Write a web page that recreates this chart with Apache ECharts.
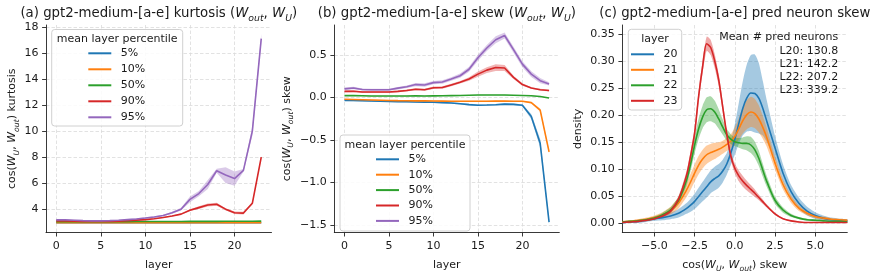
<!DOCTYPE html>
<html><head><meta charset="utf-8">
<script src="https://cdn.jsdelivr.net/npm/echarts@6/dist/echarts.min.js"></script>
<style>html,body{margin:0;padding:0;background:#fff}#c{width:878px;height:278px}</style>
</head><body><div id="c"></div>
<script>
// ---------------- data ----------------
const layers = [0,1,2,3,4,5,6,7,8,9,10,11,12,13,14,15,16,17,18,19,20,21,22,23];
const layerTicks = [0,5,10,15,20];
const kurtTicks = [4,6,8,10,12,14,16,18];
const skewTicks = [-1.5,-1.0,-0.5,0.0,0.5];
const skewXTicks = [-5,-2.5,0,2.5,5];
const densTicks = [0,0.05,0.10,0.15,0.20,0.25,0.30,0.35];
const pctNames = ['5%','10%','50%','90%','95%'];
const layerNames = ['20','21','22','23'];

// (a) kurtosis
const kurt5  = [2.96,2.96,2.96,2.96,2.96,2.96,2.96,2.96,2.96,2.96,2.96,2.96,2.96,2.96,2.96,2.96,2.96,2.96,2.96,2.96,2.96,2.96,2.96,2.96];
const kurt10 = [2.97,2.97,2.97,2.97,2.97,2.97,2.97,2.97,2.97,2.97,2.97,2.97,2.97,2.97,2.97,2.97,2.97,2.97,2.97,2.97,2.97,2.97,2.97,2.97];
const kurt50 = [3.04,3.04,3.04,3.04,3.04,3.04,3.04,3.04,3.04,3.05,3.05,3.05,3.05,3.05,3.05,3.06,3.06,3.06,3.06,3.07,3.07,3.07,3.07,3.08];
const kurt90 = [3.10,3.10,3.08,3.06,3.05,3.05,3.06,3.08,3.12,3.16,3.20,3.27,3.36,3.48,3.62,3.92,4.12,4.32,4.38,4.00,3.72,3.70,4.45,8.00];
const kurt95 = [3.18,3.18,3.15,3.12,3.10,3.10,3.12,3.15,3.20,3.25,3.32,3.40,3.52,3.72,4.00,4.75,5.20,5.90,6.95,6.62,6.35,6.98,10.0,17.1];
const kurtErr5  = [0.01,0.01,0.01,0.01,0.01,0.01,0.01,0.01,0.01,0.01,0.01,0.01,0.01,0.01,0.01,0.01,0.01,0.01,0.01,0.01,0.01,0.01,0.01,0.01];
const kurtErr10 = [0.01,0.01,0.01,0.01,0.01,0.01,0.01,0.01,0.01,0.01,0.01,0.01,0.01,0.01,0.01,0.01,0.01,0.01,0.01,0.01,0.01,0.01,0.01,0.01];
const kurtErr50 = [0.015,0.015,0.015,0.015,0.015,0.015,0.015,0.015,0.015,0.015,0.015,0.015,0.015,0.015,0.015,0.015,0.015,0.015,0.015,0.015,0.015,0.015,0.015,0.015];
const kurtErr90 = [0.03,0.03,0.03,0.03,0.03,0.03,0.03,0.03,0.03,0.03,0.03,0.03,0.04,0.04,0.05,0.07,0.10,0.12,0.12,0.08,0.10,0.10,0.10,0.08];
const kurtErr95 = [0.05,0.05,0.04,0.04,0.04,0.04,0.04,0.04,0.05,0.05,0.05,0.06,0.06,0.08,0.10,0.22,0.20,0.35,0.15,0.60,0.55,0.10,0.35,0.35];

// (b) skew
const skew5  = [-0.035,-0.037,-0.040,-0.043,-0.046,-0.048,-0.050,-0.052,-0.055,-0.056,-0.058,-0.062,-0.066,-0.075,-0.085,-0.092,-0.090,-0.087,-0.080,-0.083,-0.092,-0.226,-0.54,-1.465];
const skew10 = [-0.023,-0.025,-0.028,-0.031,-0.034,-0.037,-0.039,-0.040,-0.041,-0.042,-0.043,-0.044,-0.045,-0.045,-0.046,-0.046,-0.045,-0.044,-0.044,-0.045,-0.046,-0.062,-0.15,-0.64];
const skew50 = [0.020,0.020,0.018,0.015,0.015,0.015,0.015,0.015,0.017,0.015,0.017,0.018,0.020,0.022,0.025,0.027,0.028,0.028,0.027,0.025,0.022,0.018,0.010,-0.008];
const skew90 = [0.070,0.072,0.062,0.062,0.062,0.062,0.070,0.080,0.095,0.090,0.112,0.115,0.146,0.177,0.215,0.273,0.320,0.350,0.345,0.235,0.150,0.110,0.090,0.080];
const skew95 = [0.100,0.110,0.092,0.090,0.090,0.090,0.108,0.125,0.150,0.145,0.173,0.180,0.215,0.254,0.330,0.465,0.580,0.677,0.727,0.560,0.390,0.273,0.196,0.158];
const skewErr5  = [0.008,0.008,0.008,0.008,0.008,0.008,0.008,0.008,0.008,0.008,0.008,0.008,0.008,0.01,0.01,0.01,0.01,0.01,0.01,0.01,0.012,0.03,0.05,0.03];
const skewErr10 = [0.005,0.005,0.005,0.005,0.005,0.005,0.005,0.005,0.005,0.005,0.005,0.005,0.005,0.005,0.005,0.005,0.005,0.005,0.005,0.005,0.005,0.008,0.02,0.02];
const skewErr50 = [0.004,0.004,0.004,0.004,0.004,0.004,0.004,0.004,0.004,0.004,0.004,0.004,0.004,0.004,0.004,0.004,0.004,0.004,0.004,0.004,0.004,0.004,0.004,0.004];
const skewErr90 = [0.01,0.01,0.01,0.01,0.01,0.01,0.01,0.012,0.012,0.012,0.015,0.015,0.015,0.015,0.02,0.03,0.035,0.04,0.035,0.02,0.015,0.01,0.01,0.01];
const skewErr95 = [0.015,0.015,0.012,0.012,0.012,0.012,0.015,0.015,0.02,0.02,0.02,0.02,0.02,0.025,0.03,0.035,0.035,0.04,0.035,0.035,0.035,0.035,0.03,0.02];

// (c) pred neuron skew density
const skewGrid = [-7,-6.5,-6,-5.5,-5,-4.5,-4,-3.5,-3,-2.75,-2.5,-2.25,-2,-1.75,-1.5,-1.25,-1,-0.75,-0.5,-0.25,0,0.25,0.5,0.75,1,1.25,1.5,1.75,2,2.5,3,3.5,4,4.5,5,5.5,6,6.5,7];
const dens20 = [0.002,0.003,0.004,0.006,0.009,0.011,0.014,0.019,0.028,0.034,0.041,0.050,0.059,0.068,0.077,0.083,0.088,0.097,0.110,0.130,0.155,0.185,0.213,0.232,0.241,0.240,0.231,0.212,0.188,0.140,0.093,0.059,0.037,0.023,0.015,0.010,0.007,0.006,0.005];
const dens21 = [0.003,0.004,0.006,0.008,0.011,0.016,0.024,0.038,0.062,0.077,0.093,0.108,0.119,0.127,0.131,0.134,0.137,0.141,0.146,0.152,0.161,0.175,0.190,0.201,0.206,0.203,0.193,0.177,0.158,0.112,0.072,0.045,0.028,0.019,0.013,0.010,0.008,0.007,0.006];
const dens22 = [0.003,0.004,0.005,0.007,0.010,0.016,0.025,0.043,0.080,0.110,0.145,0.175,0.197,0.210,0.212,0.206,0.193,0.178,0.164,0.156,0.151,0.149,0.148,0.148,0.145,0.136,0.120,0.098,0.077,0.043,0.025,0.015,0.010,0.007,0.006,0.005,0.004,0.004,0.003];
const dens23 = [0.002,0.003,0.004,0.006,0.009,0.014,0.023,0.045,0.089,0.125,0.167,0.235,0.290,0.332,0.325,0.300,0.265,0.215,0.165,0.125,0.102,0.088,0.078,0.070,0.063,0.056,0.048,0.040,0.032,0.018,0.009,0.005,0.003,0.002,0.002,0.002,0.002,0.002,0.002];
const densErr20 = [0.002,0.002,0.003,0.003,0.004,0.005,0.006,0.008,0.010,0.012,0.014,0.016,0.018,0.020,0.021,0.022,0.022,0.021,0.020,0.022,0.028,0.038,0.050,0.062,0.070,0.072,0.065,0.050,0.038,0.022,0.016,0.012,0.010,0.008,0.006,0.005,0.004,0.003,0.003];
const densErr21 = [0.002,0.002,0.002,0.003,0.004,0.005,0.007,0.010,0.013,0.015,0.016,0.017,0.017,0.017,0.016,0.015,0.013,0.012,0.012,0.013,0.016,0.020,0.024,0.027,0.028,0.027,0.025,0.021,0.017,0.012,0.009,0.007,0.005,0.004,0.003,0.003,0.002,0.002,0.002];
const densErr22 = [0.001,0.001,0.002,0.002,0.003,0.004,0.005,0.007,0.010,0.013,0.016,0.019,0.021,0.023,0.023,0.021,0.018,0.014,0.011,0.009,0.008,0.009,0.011,0.013,0.015,0.015,0.014,0.012,0.010,0.007,0.005,0.003,0.002,0.002,0.002,0.001,0.001,0.001,0.001];
const densErr23 = [0.001,0.001,0.001,0.002,0.002,0.003,0.004,0.006,0.008,0.009,0.010,0.011,0.012,0.013,0.014,0.013,0.011,0.009,0.008,0.008,0.009,0.010,0.010,0.009,0.008,0.007,0.005,0.004,0.003,0.002,0.001,0.001,0.001,0.001,0.001,0.001,0.001,0.001,0.001];
const predNeuronCounts = ['L20: 130.8','L21: 142.2','L22: 207.2','L23: 339.2'];

// ---------------- styling ----------------
const FF = 'DejaVu Sans';
const TXT = '#1a1a1a';
const TAB = ['#1f77b4','#ff7f0e','#2ca02c','#d62728','#9467bd'];
const neg = s => s.replace('-', '\u2212');
const RICH = (fs, lh) => ({
  i: {fontStyle:'italic', fontSize:fs, fontFamily:FF, lineHeight:lh, color:TXT},
  s: {fontStyle:'italic', fontSize:fs*0.7, fontFamily:FF, lineHeight:Math.round(lh/2), verticalAlign:'bottom', color:TXT}
});

function xAx(gi, min, max, ticks, fmt, name, gap) {
  return {type:'value', gridIndex:gi, min, max, position:'bottom',
    name, nameLocation:'middle', nameGap:gap,
    nameTextStyle:{fontSize:11, fontFamily:FF, color:TXT, lineHeight:16, rich:RICH(11,16)},
    axisLine:{show:true, onZero:false, lineStyle:{color:'#222', width:0.9}},
    axisTick:{show:true, length:3.9, customValues:ticks, lineStyle:{color:'#222', width:0.9}},
    axisLabel:{show:true, customValues:ticks, formatter:fmt, fontSize:11, fontFamily:FF, color:TXT, margin:8.5},
    splitLine:{show:true, lineStyle:{color:'#dadada', width:0.8, type:[3.5,2]}}};
}
function yAx(gi, min, max, ticks, fmt, name, gap) {
  return {type:'value', gridIndex:gi, min, max, position:'left',
    name, nameLocation:'middle', nameGap:gap,
    nameTextStyle:{fontSize:11, fontFamily:FF, color:TXT, lineHeight:16, rich:RICH(11,16)},
    axisLine:{show:true, onZero:false, lineStyle:{color:'#222', width:0.9}},
    axisTick:{show:true, length:3.9, customValues:ticks, lineStyle:{color:'#222', width:0.9}},
    axisLabel:{show:true, customValues:ticks, formatter:fmt, fontSize:11, fontFamily:FF, color:TXT, margin:7.5},
    splitLine:{show:true, lineStyle:{color:'#dadada', width:0.8, type:[3.5,2]}}};
}

function band(ai, xs, mean, err, color, alpha, smooth) {
  return {type:'custom', xAxisIndex:ai, yAxisIndex:ai, silent:true, z:1,
    data:[[xs[0], mean[0]]],
    renderItem: function (params, api) {
      const pts = [];
      for (let i = 0; i < xs.length; i++) pts.push(api.coord([xs[i], mean[i] + err[i]]));
      for (let i = xs.length - 1; i >= 0; i--) pts.push(api.coord([xs[i], mean[i] - err[i]]));
      return {type:'polygon', shape:{points:pts, smooth:smooth}, style:{fill:color, opacity:alpha}};
    }};
}
function line(ai, name, xs, ys, color, smooth) {
  return {type:'line', name, xAxisIndex:ai, yAxisIndex:ai, z:3,
    data: xs.map((x, i) => [x, ys[i]]), showSymbol:false, symbol:'none', smooth:smooth,
    itemStyle:{color}, lineStyle:{color, width:1.6}, emphasis:{disabled:true}};
}

const kurtSets = [[kurt5,kurtErr5],[kurt10,kurtErr10],[kurt50,kurtErr50],[kurt90,kurtErr90],[kurt95,kurtErr95]];
const skewSets = [[skew5,skewErr5],[skew10,skewErr10],[skew50,skewErr50],[skew90,skewErr90],[skew95,skewErr95]];
const densSets = [[dens20,densErr20],[dens21,densErr21],[dens22,densErr22],[dens23,densErr23]];

const series = [];
kurtSets.forEach((s, k) => series.push(band(0, layers, s[0], s[1], TAB[k], 0.35, 0)));
kurtSets.forEach((s, k) => series.push(line(0, pctNames[k], layers, s[0], TAB[k], false)));
skewSets.forEach((s, k) => series.push(band(1, layers, s[0], s[1], TAB[k], 0.35, 0)));
skewSets.forEach((s, k) => series.push(line(1, pctNames[k], layers, s[0], TAB[k], false)));
densSets.forEach((s, k) => series.push(band(2, skewGrid, s[0], s[1], TAB[k], 0.4, 0.2)));
densSets.forEach((s, k) => series.push(line(2, layerNames[k], skewGrid, s[0], TAB[k], 0.3)));

function titleText(x, y, text) {
  return {type:'text', x, y, z:10, style:{text, x:0, y:0, fontSize:13.3, fontFamily:FF, fill:TXT, lineHeight:18,
    align:'center', verticalAlign:'middle', textAlign:'center', textVerticalAlign:'middle', rich:RICH(13.3,18)}};
}
function legendBox(x, y, w, h, title) {
  return [
    {type:'rect', z:20, shape:{x, y, width:w, height:h, r:3}, style:{fill:'rgba(255,255,255,0.85)', stroke:'#d0d0d0', lineWidth:1}},
    {type:'text', z:21, x:x + w / 2, y:y + 10, style:{text:title, fontSize:11, fontFamily:FF, fill:TXT,
      align:'center', verticalAlign:'middle', textAlign:'center', textVerticalAlign:'middle'}}
  ];
}
function legendCfg(names, left, top, gap) {
  return {data:names, orient:'vertical', left, top, itemWidth:23, itemHeight:2, itemGap:gap, icon:'rect',
    padding:0, selectedMode:false, z:25,
    textStyle:{fontSize:11, fontFamily:FF, color:TXT, lineHeight:12, padding:[0,0,0,4.5]}};
}

const chart = echarts.init(document.getElementById('c'), null, {renderer:'canvas'});
chart.setOption({
  animation:false,
  backgroundColor:'#fff',
  grid:[
    {left:46, top:25, width:225.5, height:211.5},
    {left:334.3, top:25, width:225, height:211.5},
    {left:622.3, top:25, width:225, height:211.5}
  ],
  xAxis:[
    xAx(0, -1.15, 24.15, layerTicks, v => String(v), 'layer', 16),
    xAx(1, -1.15, 24.15, layerTicks, v => String(v), 'layer', 16),
    xAx(2, -7, 7, skewXTicks, v => neg(v.toFixed(1)), 'cos({i|W}{s|U}, {i|W}{s|out}) skew', 17)
  ],
  yAxis:[
    yAx(0, 2.2, 18.15, kurtTicks, v => String(v), 'cos({i|W}{s|U}, {i|W}{s|out}) kurtosis', 25),
    yAx(1, -1.589, 0.85, skewTicks, v => neg(v.toFixed(1)), 'cos({i|W}{s|U}, {i|W}{s|out}) skew', 39),
    yAx(2, -0.0167, 0.3665, densTicks, v => v.toFixed(2), 'density', 35)
  ],
  legend:[
    legendCfg(pctNames, 88.3, 47.3, 4),
    legendCfg(pctNames, 376, 153.3, 3.4),
    legendCfg(layerNames, 631, 48.3, 3.5)
  ],
  graphic:[
    titleText(158.8, 14, '(a) gpt2-medium-[a-e] kurtosis ({i|W}{s|out}, {i|W}{s|U})'),
    titleText(446.8, 14, '(b) gpt2-medium-[a-e] skew ({i|W}{s|out}, {i|W}{s|U})'),
    titleText(734.8, 14, '(c) gpt2-medium-[a-e] pred neuron skew'),
    ...legendBox(51.7, 29.5, 131, 96.5, 'mean layer percentile'),
    ...legendBox(340, 135, 130, 96, 'mean layer percentile'),
    ...legendBox(628.3, 29.3, 53.4, 80.7, 'layer'),
    {type:'text', z:15, x:838.3, y:31, style:{text:['Mean # pred neurons'].concat(predNeuronCounts).join('\n'),
      fontSize:11, fontFamily:FF, fill:TXT, lineHeight:13.25, align:'right', verticalAlign:'top', textAlign:'right', textVerticalAlign:'top'}}
  ],
  series
});
</script></body></html>
